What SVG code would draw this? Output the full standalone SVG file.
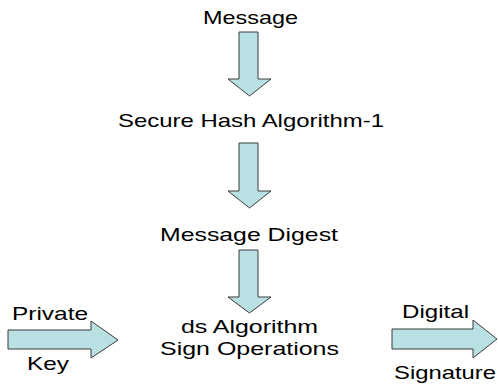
<svg xmlns="http://www.w3.org/2000/svg" width="498" height="386" viewBox="0 0 498 386">
<style>
.bg{fill:#ffffff}
.arr{fill:#B9E0E3;stroke:#3a3a3a;stroke-width:1}
text{font-family:"Liberation Sans",Arial,sans-serif;font-size:18.5px;fill:#000}
</style>
<rect class="bg" x="0" y="0" width="498" height="386"/>
<g id="connectors">
<polygon id="arrow1" class="arr" points="239,32 258,32 258,79 271,79 249.5,96 228,79 239,79"/>
<polygon id="arrow2" class="arr" points="239,143 258,143 258,191 271,191 249.5,208 228,191 239,191"/>
<polygon id="arrow3" class="arr" points="239,250 258,250 258,297 271,297 249.5,313 228,297 239,297"/>
<polygon id="arrowKey" class="arr" points="8,330 91,330 91,321 118,340 91,358 91,349 8,349"/>
<polygon id="arrowSig" class="arr" points="392,329 473,329 473,320 497,339 473,358 473,349 392,349"/>
</g>
<g id="message"><text x="203" y="24" textLength="95" lengthAdjust="spacingAndGlyphs">Message</text></g>
<g id="sha1"><text x="118" y="127" textLength="266" lengthAdjust="spacingAndGlyphs">Secure Hash Algorithm-1</text></g>
<g id="digest"><text x="160" y="241" textLength="178" lengthAdjust="spacingAndGlyphs">Message Digest</text></g>
<g id="dsa"><text x="181" y="333" textLength="137" lengthAdjust="spacingAndGlyphs">ds Algorithm</text><text x="160" y="355" textLength="179" lengthAdjust="spacingAndGlyphs">Sign Operations</text></g>
<g id="privateKey"><text x="12" y="320" textLength="76" lengthAdjust="spacingAndGlyphs">Private</text><text x="27" y="370" textLength="42" lengthAdjust="spacingAndGlyphs">Key</text></g>
<g id="signature"><text x="402" y="318" textLength="67" lengthAdjust="spacingAndGlyphs">Digital</text><text x="394" y="379" textLength="102" lengthAdjust="spacingAndGlyphs">Signature</text></g>
</svg>
